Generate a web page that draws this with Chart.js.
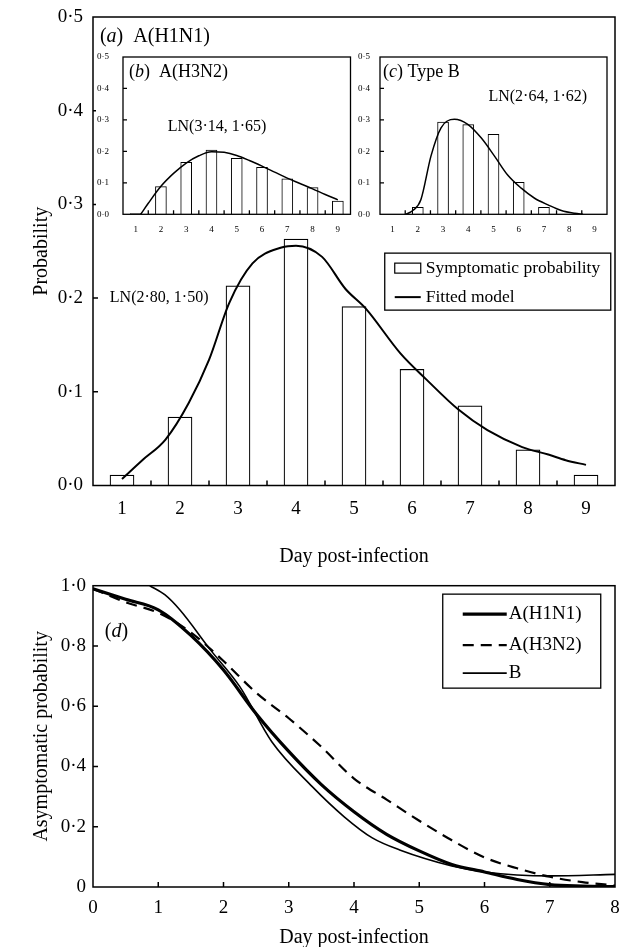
<!DOCTYPE html>
<html>
<head>
<meta charset="utf-8">
<script src="https://cdn.jsdelivr.net/npm/chart.js@4.4.1/dist/chart.umd.min.js"></script>
<style>
  body { margin: 0; background: #fff; }
  #wrap { position: relative; width: 619px; height: 947px; }
  canvas { position: absolute; background: #fff; }
</style>
</head>
<body>
<div id="wrap">
  <canvas id="chart-a" width="619" height="567" style="left:0;top:0"></canvas>
  <canvas id="chart-b" width="256" height="187" style="left:96px;top:49px"></canvas>
  <canvas id="chart-c" width="260" height="187" style="left:352px;top:49px"></canvas>
  <canvas id="chart-d" width="619" height="377" style="left:0;top:570px"></canvas>
</div>
<script>
// Dias e probabilidades
var DAYS = [1, 2, 3, 4, 5, 6, 7, 8, 9];
var PROB_TICKS = [0, 0.1, 0.2, 0.3, 0.4, 0.5];

// (a) A(H1N1)
var H1N1_SYMPTOMATIC = [0.011, 0.073, 0.213, 0.263, 0.191, 0.124, 0.085, 0.038, 0.011];
var H1N1_FIT_DAY = [1.0, 1.35, 1.75, 2.15, 2.5, 2.85, 3.25, 3.75, 4.0, 4.45, 4.85, 5.2, 5.8, 6.25, 6.8, 7.3, 7.9, 8.35, 8.65, 9.0];
var H1N1_FIT     = [0.007, 0.027, 0.049, 0.088, 0.134, 0.195, 0.237, 0.254, 0.256, 0.244, 0.21, 0.189, 0.141, 0.113, 0.081, 0.059, 0.041, 0.033, 0.027, 0.022];

// (b) A(H3N2)
var H3N2_SYMPTOMATIC = [0.002, 0.088, 0.165, 0.204, 0.178, 0.149, 0.113, 0.085, 0.042];
var H3N2_FIT_DAY = [1.2, 1.5, 2, 2.5, 3, 3.5, 4, 4.5, 5, 5.5, 6, 6.5, 7, 7.5, 8, 8.5, 9];
var H3N2_FIT     = [0.0, 0.035, 0.089, 0.13, 0.163, 0.186, 0.199, 0.197, 0.187, 0.171, 0.153, 0.134, 0.115, 0.098, 0.081, 0.063, 0.046];

// (c) Type B
var B_SYMPTOMATIC = [0, 0.022, 0.293, 0.285, 0.254, 0.102, 0.022, 0, 0];
var B_FIT_DAY = [1.53, 1.8, 2.12, 2.52, 2.92, 3.45, 3.98, 4.51, 5.04, 5.57, 6.1, 6.63, 7.16, 7.69, 8.22, 8.55];
var B_FIT     = [0, 0.012, 0.046, 0.185, 0.275, 0.302, 0.286, 0.243, 0.185, 0.124, 0.083, 0.051, 0.030, 0.012, 0.003, 0];

// (d) probabilidade assintomática
var ASYM_DAY  = [0, 0.5, 1, 1.5, 2, 2.5, 3, 3.5, 4, 4.5, 5, 5.5, 6, 6.5, 7, 7.5, 8];
var ASYM_H1N1 = [0.99, 0.955, 0.92, 0.835, 0.72, 0.575, 0.45, 0.34, 0.25, 0.175, 0.12, 0.075, 0.05, 0.025, 0.008, 0.003, 0.001];
var ASYM_H3N2 = [0.99, 0.945, 0.91, 0.845, 0.75, 0.645, 0.56, 0.465, 0.36, 0.29, 0.22, 0.155, 0.098, 0.062, 0.034, 0.016, 0.005];
var ASYM_B_DAY = [0.87, 1.1, 1.33, 1.8, 2.25, 2.74, 3.36, 3.85, 4.28, 4.7, 5.5, 6, 7, 8];
var ASYM_B     = [1.0, 0.97, 0.92, 0.787, 0.665, 0.482, 0.333, 0.233, 0.163, 0.123, 0.07, 0.05, 0.037, 0.042];
var D_X_TICKS = [0, 1, 2, 3, 4, 5, 6, 7, 8];
var D_Y_TICKS = [0, 0.2, 0.4, 0.6, 0.8, 1.0];

var SERIF = '"Liberation Serif", "DejaVu Serif", serif';
Chart.defaults.font.family = SERIF;
Chart.defaults.color = '#000';

function pts(xs, ys) { return xs.map(function (x, i) { return { x: x, y: ys[i] }; }); }
function dot(v) { return v.toFixed(1).replace('.', '\u00b7'); }
function noPadX(s) { s.paddingLeft = 0; s.paddingRight = 0; }
function noPadY(s) { s.paddingTop = 0; s.paddingBottom = 0; }

// moldura + tiques para dentro
var frameTicks = {
  id: 'frameTicks',
  afterDraw: function (chart, args, o) {
    var ctx = chart.ctx, a = chart.chartArea, sx = chart.scales.x, sy = chart.scales.y;
    ctx.save();
    ctx.strokeStyle = '#000';
    ctx.lineWidth = o.width || 1.3;
    ctx.strokeRect(a.left, a.top, a.right - a.left, a.bottom - a.top);
    ctx.beginPath();
    (o.x || []).forEach(function (v) {
      var px = sx.getPixelForValue(v);
      ctx.moveTo(px, a.bottom); ctx.lineTo(px, a.bottom - o.len);
    });
    (o.y || []).forEach(function (v) {
      var py = sy.getPixelForValue(v);
      ctx.moveTo(a.left, py); ctx.lineTo(a.left + o.len, py);
    });
    ctx.stroke();
    ctx.restore();
  }
};

// rótulos com partes em itálico
var panelText = {
  id: 'panelText',
  afterDraw: function (chart, args, o) {
    var ctx = chart.ctx, sx = chart.scales.x, sy = chart.scales.y;
    ctx.save();
    ctx.fillStyle = '#000';
    ctx.textBaseline = 'middle';
    (o.items || []).forEach(function (it) {
      var px = sx.getPixelForValue(it.x), py = sy.getPixelForValue(it.y);
      it.parts.forEach(function (p) {
        ctx.font = (p.i ? 'italic ' : '') + it.size + 'px ' + SERIF;
        ctx.fillText(p.t, px, py);
        px += ctx.measureText(p.t).width;
      });
    });
    ctx.restore();
  }
};

// legenda em caixa dentro da área do gráfico
var boxLegend = {
  id: 'boxLegend',
  afterDraw: function (chart, args, o) {
    if (!o.entries) return;
    var ctx = chart.ctx;
    var bx = chart.scales.x.getPixelForValue(o.x), by = chart.scales.y.getPixelForValue(o.y);
    ctx.save();
    ctx.fillStyle = '#fff';
    ctx.fillRect(bx, by, o.w, o.h);
    ctx.strokeStyle = '#000';
    ctx.lineWidth = 1.3;
    ctx.strokeRect(bx, by, o.w, o.h);
    ctx.font = o.size + 'px ' + SERIF;
    ctx.textBaseline = 'middle';
    o.entries.forEach(function (e) {
      var ds = chart.data.datasets[e.ds];
      var yy = by + e.dy;
      ctx.strokeStyle = '#000';
      ctx.lineWidth = ds.borderWidth;
      if (e.kind === 'bar') {
        ctx.strokeRect(bx + o.sx, yy - 5, o.sw, 10);
      } else {
        ctx.setLineDash(ds.borderDash || []);
        ctx.beginPath();
        ctx.moveTo(bx + o.sx, yy); ctx.lineTo(bx + o.sx + o.sw, yy);
        ctx.stroke();
        ctx.setLineDash([]);
      }
      ctx.fillStyle = '#000';
      ctx.fillText(ds.label, bx + o.tx, yy);
    });
    ctx.restore();
  }
};

function histChart(id, cfg) {
  return new Chart(document.getElementById(id), {
    type: 'bar',
    data: {
      datasets: [{
        type: 'line',
        label: 'Fitted model',
        data: pts(cfg.fitDay, cfg.fit),
        borderColor: '#000',
        borderWidth: cfg.lineW,
        pointRadius: 0,
        cubicInterpolationMode: 'monotone',
        order: 0
      }, {
        label: 'Symptomatic probability',
        data: pts(DAYS, cfg.bars),
        backgroundColor: '#fff',
        borderColor: '#000',
        borderWidth: cfg.barBorder,
        barThickness: cfg.barW,
        order: 1
      }]
    },
    options: {
      responsive: false,
      animation: false,
      devicePixelRatio: 1,
      layout: { padding: cfg.pad },
      scales: {
        x: {
          type: 'linear', min: 0.5, max: 9.5, offset: false,
          grid: { display: false, drawTicks: false }, border: { display: false },
          afterBuildTicks: function (s) { s.ticks = DAYS.map(function (v) { return { value: v }; }); },
          afterFit: function (s) { s.height = cfg.xH; noPadX(s); },
          ticks: { font: { size: cfg.tickSize }, padding: cfg.xPad, maxRotation: 0, autoSkip: false },
          title: cfg.xTitle ? { display: true, text: cfg.xTitle, font: { size: 20 }, padding: { top: 0, bottom: -2 } } : { display: false }
        },
        y: {
          min: 0, max: 0.5,
          grid: { display: false, drawTicks: false }, border: { display: false },
          afterBuildTicks: function (s) { s.ticks = PROB_TICKS.map(function (v) { return { value: v }; }); },
          afterFit: function (s) { s.width = cfg.yW; noPadY(s); },
          ticks: { font: { size: cfg.tickSize }, padding: cfg.yPad, callback: dot },
          title: cfg.yTitle ? { display: true, text: cfg.yTitle, font: { size: 20 }, padding: { top: 30, bottom: 0 } } : { display: false }
        }
      },
      plugins: {
        legend: { display: false },
        tooltip: { enabled: false },
        frameTicks: { x: [1.5, 2.5, 3.5, 4.5, 5.5, 6.5, 7.5, 8.5], y: [0.1, 0.2, 0.3, 0.4], len: cfg.tickLen, width: cfg.frameW },
        panelText: { items: cfg.texts },
        boxLegend: cfg.legend || {}
      }
    },
    plugins: [frameTicks, panelText, boxLegend]
  });
}

histChart('chart-a', {
  bars: H1N1_SYMPTOMATIC, fitDay: H1N1_FIT_DAY, fit: H1N1_FIT,
  lineW: 2, barBorder: 1.2, barW: 24,
  pad: { left: 0, right: 4, top: 17, bottom: 0 },
  xH: 81.5, yW: 93, tickSize: 19, xPad: 12, yPad: 10, tickLen: 5, frameW: 1.5,
  xTitle: 'Day post-infection', yTitle: 'Probability',
  texts: [
    { x: 0.62, y: 0.479, size: 20, parts: [{ t: '(' }, { t: 'a', i: true }, { t: ')  A(H1N1)' }] },
    { x: 0.79, y: 0.200, size: 16, parts: [{ t: 'LN(2\u00b780, 1\u00b750)' }] }
  ],
  legend: {
    x: 5.53, y: 0.248, w: 226, h: 57, size: 17.5, sx: 10, sw: 26, tx: 41,
    entries: [{ ds: 1, kind: 'bar', dy: 15 }, { ds: 0, kind: 'line', dy: 44 }]
  }
});

histChart('chart-b', {
  bars: H3N2_SYMPTOMATIC, fitDay: H3N2_FIT_DAY, fit: H3N2_FIT,
  lineW: 1.5, barBorder: 1, barW: 11,
  pad: { left: 0, right: 1.5, top: 8, bottom: 0 },
  xH: 21.7, yW: 27, tickSize: 9, xPad: 10, yPad: 14, tickLen: 4, frameW: 1.3,
  texts: [
    { x: 0.74, y: 0.451, size: 18, parts: [{ t: '(' }, { t: 'b', i: true }, { t: ')  A(H3N2)' }] },
    { x: 2.27, y: 0.279, size: 16, parts: [{ t: 'LN(3\u00b714, 1\u00b765)' }] }
  ]
});

histChart('chart-c', {
  bars: B_SYMPTOMATIC, fitDay: B_FIT_DAY, fit: B_FIT,
  lineW: 1.5, barBorder: 1, barW: 11,
  pad: { left: 0, right: 5, top: 8, bottom: 0 },
  xH: 21.7, yW: 28, tickSize: 9, xPad: 10, yPad: 10, tickLen: 4, frameW: 1.3,
  texts: [
    { x: 0.62, y: 0.451, size: 18, parts: [{ t: '(' }, { t: 'c', i: true }, { t: ') Type B' }] },
    { x: 4.8, y: 0.375, size: 16, parts: [{ t: 'LN(2\u00b764, 1\u00b762)' }] }
  ]
});

new Chart(document.getElementById('chart-d'), {
  type: 'line',
  data: {
    datasets: [{
      label: 'A(H1N1)', data: pts(ASYM_DAY, ASYM_H1N1),
      borderColor: '#000', borderWidth: 3.2, pointRadius: 0, cubicInterpolationMode: 'monotone'
    }, {
      label: 'A(H3N2)', data: pts(ASYM_DAY, ASYM_H3N2),
      borderColor: '#000', borderWidth: 2.2, borderDash: [11, 7], pointRadius: 0, cubicInterpolationMode: 'monotone'
    }, {
      label: 'B', data: pts(ASYM_B_DAY, ASYM_B),
      borderColor: '#000', borderWidth: 1.6, pointRadius: 0, cubicInterpolationMode: 'monotone'
    }]
  },
  options: {
    responsive: false,
    animation: false,
    devicePixelRatio: 1,
    layout: { padding: { left: 0, right: 4, top: 15.7, bottom: 0 } },
    scales: {
      x: {
        type: 'linear', min: 0, max: 8,
        grid: { display: false, drawTicks: false }, border: { display: false },
        afterBuildTicks: function (s) { s.ticks = D_X_TICKS.map(function (v) { return { value: v }; }); },
        afterFit: function (s) { s.height = 60; noPadX(s); },
        ticks: { font: { size: 19 }, padding: 10, maxRotation: 0, autoSkip: false },
        title: { display: true, text: 'Day post-infection', font: { size: 20 }, padding: { top: 0, bottom: -3 } }
      },
      y: {
        min: 0, max: 1,
        grid: { display: false, drawTicks: false }, border: { display: false },
        afterBuildTicks: function (s) { s.ticks = D_Y_TICKS.map(function (v) { return { value: v }; }); },
        afterFit: function (s) { s.width = 93; noPadY(s); },
        ticks: { font: { size: 19 }, padding: 7, callback: function (v) { return v === 0 ? '0' : dot(v); } },
        title: { display: true, text: 'Asymptomatic probability', font: { size: 20 }, padding: { top: 30, bottom: 0 } }
      }
    },
    plugins: {
      legend: { display: false },
      tooltip: { enabled: false },
      frameTicks: { x: [1, 2, 3, 4, 5, 6, 7], y: [0.2, 0.4, 0.6, 0.8], len: 5, width: 1.5 },
      panelText: { items: [{ x: 0.18, y: 0.846, size: 20, parts: [{ t: '(' }, { t: 'd', i: true }, { t: ')' }] }] },
      boxLegend: {
        x: 5.36, y: 0.972, w: 158, h: 94, size: 19, sx: 20, sw: 44, tx: 66,
        entries: [{ ds: 0, kind: 'line', dy: 20 }, { ds: 1, kind: 'line', dy: 51 }, { ds: 2, kind: 'line', dy: 79 }]
      }
    }
  },
  plugins: [frameTicks, panelText, boxLegend]
});
</script>
</body>
</html>
